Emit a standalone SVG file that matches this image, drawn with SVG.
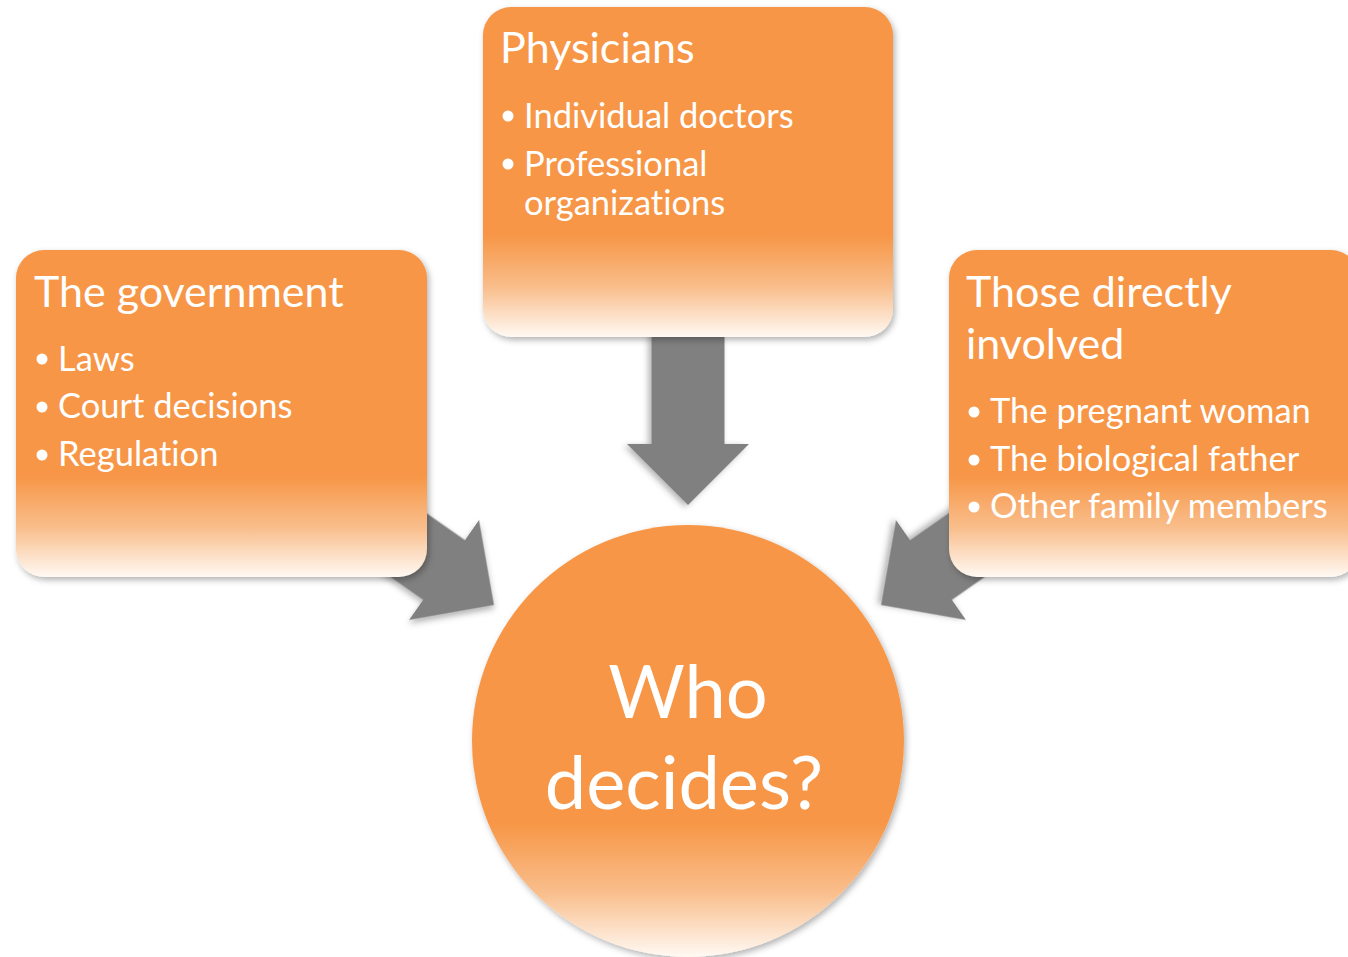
<svg xmlns="http://www.w3.org/2000/svg" width="1348" height="957" viewBox="0 0 1348 957">
  <defs>
    <linearGradient id="fade" x1="0" y1="0" x2="0" y2="1">
      <stop offset="0" stop-color="#F79646"/>
      <stop offset="0.69" stop-color="#F79646"/>
      <stop offset="0.85" stop-color="#F9BE8C"/>
      <stop offset="1" stop-color="#FFF9F3"/>
    </linearGradient>
    <filter id="shadow" x="-10%" y="-10%" width="125%" height="125%">
      <feDropShadow dx="2" dy="3" stdDeviation="3" flood-color="#000" flood-opacity="0.3"/>
    </filter>
    <polygon id="arrowShort" points="-141,-36.5 -61,-36.5 -61,-61 0,0 -61,61 -61,36.5 -141,36.5"/>
    <polygon id="arrowLong" points="-180,-36.5 -61,-36.5 -61,-61 0,0 -61,61 -61,36.5 -180,36.5"/>
  </defs>
  <style>
    .box { fill: url(#fade); filter: url(#shadow); }
    .arrow { fill: #808080; filter: url(#shadow); }
    text { font-family: Lato, "Open Sans", "Liberation Sans", sans-serif; fill: #FFFFFF; font-variant-ligatures: none; }
    .title { font-size: 43px; }
    .item { font-size: 34.5px; }
    .big { font-size: 74px; text-anchor: middle; }
    .dot { fill: #FFFFFF; }
  </style>

  <g id="connectors">
    <use href="#arrowLong" class="arrow" transform="translate(688,505) rotate(90)"/>
    <use href="#arrowShort" class="arrow" transform="translate(494,605) rotate(35)"/>
    <use href="#arrowShort" class="arrow" transform="translate(881,605) rotate(145)"/>
  </g>

  <g id="node-physicians">
    <rect class="box" x="483" y="7" width="410" height="330" rx="28" ry="28"/>
    <text class="title" x="500" y="63">Physicians</text>
    <circle class="dot" cx="508" cy="116" r="5.5"/>
    <text class="item" x="524" y="128">Individual doctors</text>
    <circle class="dot" cx="508" cy="164" r="5.5"/>
    <text class="item" x="524" y="176">Professional</text>
    <text class="item" x="524" y="215">organizations</text>
  </g>

  <g id="node-government">
    <rect class="box" x="16" y="250" width="411" height="327" rx="28" ry="28"/>
    <text class="title" x="34" y="307">The government</text>
    <circle class="dot" cx="42" cy="359" r="5.5"/>
    <text class="item" x="58" y="371">Laws</text>
    <circle class="dot" cx="42" cy="407" r="5.5"/>
    <text class="item" x="58" y="418">Court decisions</text>
    <circle class="dot" cx="42" cy="455" r="5.5"/>
    <text class="item" x="58" y="466">Regulation</text>
  </g>

  <g id="node-involved">
    <rect class="box" x="949" y="250" width="410" height="327" rx="28" ry="28"/>
    <text class="title" x="966" y="307">Those directly</text>
    <text class="title" x="966" y="359">involved</text>
    <circle class="dot" cx="974" cy="412" r="5.5"/>
    <text class="item" x="990" y="423">The pregnant woman</text>
    <circle class="dot" cx="974" cy="460" r="5.5"/>
    <text class="item" x="990" y="471">The biological father</text>
    <circle class="dot" cx="974" cy="507" r="5.5"/>
    <text class="item" x="990" y="518">Other family members</text>
  </g>

  <g id="node-center">
    <circle cx="688" cy="741" r="216" fill="url(#fade)" filter="url(#shadow)"/>
    <text class="big" x="688" y="718">Who</text>
    <text class="big" x="684" y="809">decides?</text>
  </g>
</svg>
